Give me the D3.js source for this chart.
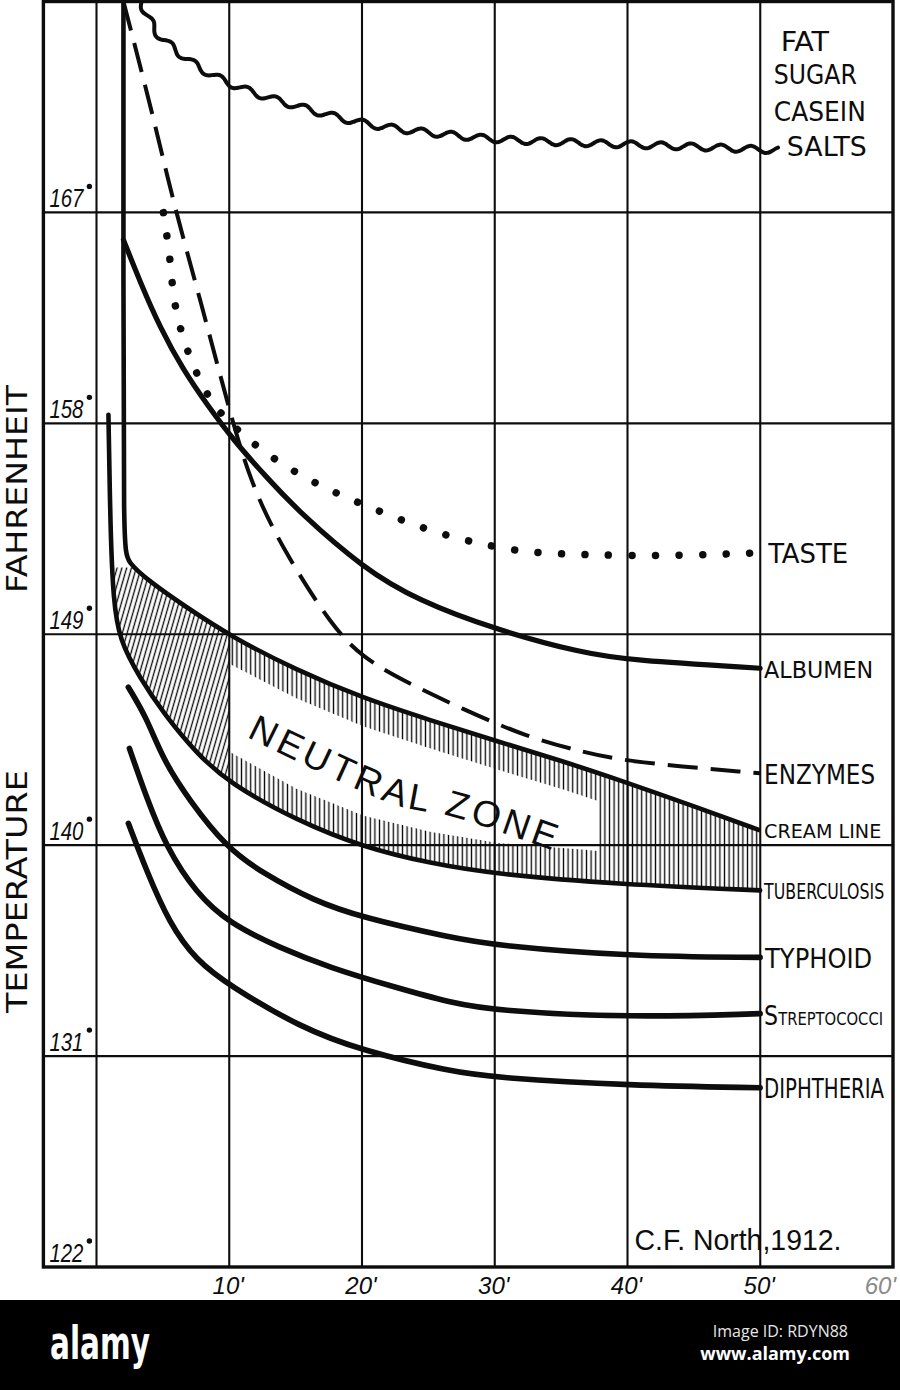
<!DOCTYPE html>
<html><head><meta charset="utf-8">
<script src="https://cdn.jsdelivr.net/npm/d3@7"></script>
<style>html,body{margin:0;padding:0;background:#fff;} svg{display:block;}</style>
</head><body>
<script>
// ---------------- DATA (time in minutes, temperature in °F) ----------------
const xGrid = [0, 10, 20, 30, 40, 50];
const xTicks = [10, 20, 30, 40, 50, 60];
const xTickLabels = ["10'", "20'", "30'", "40'", "50'", "60'"];
const yTicks = [122, 131, 140, 149, 158, 167];
const yTickLabels = ["122", "131", "140", "149", "158", "167"];
const yAxisWords = ["TEMPERATURE", "FAHRENHEIT"];

const fatSugarCaseinSalts = [[3.4,176],[4.3,174.7],[5.8,174.0],[7.8,173.1],[10,172.5],[12.3,172.0],[15.3,171.5],[20,170.75],[25,170.4],[30,170.1],[35,170.0],[40,169.9],[45.3,169.8],[51.4,169.65]];
const taste = [[5.04,166.99],[5.56,165.06],[5.79,163.14],[6.69,161.22],[8.35,159.08],[9.93,158.06],[12.34,156.86],[15.5,155.71],[18.67,154.86],[21.98,154.09],[25.37,153.36],[28.9,152.85],[32.45,152.47],[37.42,152.38],[43.06,152.34],[49.84,152.47]];
const albumen = [[2.03,165.83],[3.31,164.0],[4.81,162.06],[6.54,160.27],[8.35,158.78],[10.3,157.29],[12.87,155.66],[15.35,154.17],[20.1,151.82],[24.16,150.45],[30.19,149.17],[36.66,148.19],[40.2,147.89],[49.99,147.55]];
const enzymes = [[2.03,176],[4.28,171.09],[5.79,167.41],[7.82,163.27],[9.86,158.87],[11.59,155.45],[14.07,152.59],[17.84,149.25],[20.1,148.0],[22.9,147.07],[27.6,145.8],[32.4,144.62],[36.66,143.97],[40.2,143.54],[49.99,143.07]];
const creamLine = [[2.03,176],[2.03,164.12],[2.03,152.68],[2.33,152.08],[4.06,151.22],[6.54,150.24],[10.08,148.92],[15.05,147.47],[20.1,146.27],[25.14,145.33],[30.19,144.43],[34.93,143.62],[39.45,142.77],[45.47,141.57],[49.99,140.63]];
const tuberculosis = [[0.9,158.36],[1.05,153.32],[1.27,150.46],[1.72,148.75],[3.23,147.17],[5.04,145.63],[7.52,143.92],[10.01,142.64],[15.05,141.06],[20.1,139.91],[25.14,139.22],[30.19,138.75],[39.45,138.33],[49.99,138.07]];
const typhoid = [[2.4,146.74],[3.76,145.46],[5.04,143.62],[7.0,141.91],[9.78,139.9],[12.57,138.79],[16.33,137.64],[20.02,136.91],[26.65,136.06],[30.04,135.72],[40.2,135.25],[49.99,135.21]];
const streptococci = [[2.48,144.13],[3.76,142.04],[5.26,139.9],[7.52,137.94],[10.01,136.66],[13.77,135.63],[17.54,134.78],[22.58,133.92],[26.65,133.28],[30.04,132.94],[40.2,132.64],[49.99,132.81]];
const diphtheria = [[2.4,140.93],[3.76,138.92],[5.49,136.66],[7.52,135.08],[10.01,134.01],[15.35,132.22],[20.02,131.23],[26.65,130.34],[30.04,130.08],[40.2,129.74],[49.99,129.65]];

const topLabels = ["FAT", "SUGAR", "CASEIN", "SALTS"];
const zoneLabel = "NEUTRAL ZONE";
const zoneLabelPath = [[11.3,144.62],[22.45,141.74],[26.9,141.2],[34.6,139.72]];
const zoneWindow = [10.05, 37.8];   // minutes where the band centre is left open
const credit = "C.F. North,1912.";

// ---------------- SETUP ----------------
const W = 900, H = 1390;
const ink = "#0d0d0d";
const hand = "'DejaVu Sans Condensed','DejaVu Sans',sans-serif";
const x = d3.scaleLinear().domain([-4, 60]).range([43.4, 893]);
const y = d3.scaleLinear().domain([122, 176]).range([1267, 1.5]);
const line = d3.line().x(d => x(d[0])).y(d => y(d[1])).curve(d3.curveBasis);
const lineCR = d3.line().x(d => x(d[0])).y(d => y(d[1])).curve(d3.curveCatmullRom.alpha(0.5));

const svg = d3.select("body").append("svg").attr("width", W).attr("height", H);
svg.append("rect").attr("width", W).attr("height", H).attr("fill", "#fff");
const defs = svg.append("defs");

// place a text at (px,py) with rotation, horizontally scaled to a target width
function fitText(parent, px, py, targetW, rot) {
  const g = parent.append("g");
  const t = g.append("text").attr("x", 0).attr("y", 0);
  return {
    t, done() {
      const nat = t.node().getComputedTextLength() || targetW;
      g.attr("transform", `translate(${px},${py})${rot ? ` rotate(${rot})` : ""} scale(${targetW / nat},1)`);
    }
  };
}

function hatchPattern(id, angle) {
  const p = defs.append("pattern").attr("id", id).attr("patternUnits", "userSpaceOnUse")
    .attr("width", 4.6).attr("height", 20).attr("patternTransform", `rotate(${angle})`);
  p.append("line").attr("x1", 2.3).attr("x2", 2.3).attr("y1", -2).attr("y2", 22)
    .attr("stroke", ink).attr("stroke-width", 1.35);
}
hatchPattern("hatchV", 0);
hatchPattern("hatchS", 16);

defs.append("clipPath").attr("id", "plotClip").append("rect")
  .attr("x", x(-4)).attr("y", y(176)).attr("width", x(60) - x(-4)).attr("height", y(122) - y(176));

const bandD = line(creamLine) + "L" + line(tuberculosis.slice().reverse()).slice(1) + "Z";
defs.append("clipPath").attr("id", "bandClip").append("path").attr("d", bandD);
defs.append("clipPath").attr("id", "bandTop").append("rect")
  .attr("x", x(-4)).attr("y", y(151.85)).attr("width", x(60) - x(-4)).attr("height", y(122) - y(151.85));

// ---------------- NEUTRAL ZONE HATCH ----------------
const hatch = svg.append("g").attr("clip-path", "url(#bandTop)").append("g").attr("clip-path", "url(#bandClip)");
hatch.append("rect").attr("x", x(-1)).attr("y", y(160)).attr("width", x(zoneWindow[0]) - x(-1))
  .attr("height", y(136) - y(160)).attr("fill", "url(#hatchS)");
hatch.append("rect").attr("x", x(zoneWindow[0])).attr("y", y(160)).attr("width", x(50) - x(zoneWindow[0]))
  .attr("height", y(136) - y(160)).attr("fill", "url(#hatchV)");

const upAfter = creamLine.filter(d => d[0] > 2.2);
const loAfter = tuberculosis.filter(d => d[0] > 1.6);
const upI = d3.scaleLinear().domain(upAfter.map(d => d[0])).range(upAfter.map(d => d[1]));
const loI = d3.scaleLinear().domain(loAfter.map(d => d[0])).range(loAfter.map(d => d[1]));
const winT = d3.range(zoneWindow[0], zoneWindow[1], 0.25).concat([zoneWindow[1]]);
svg.append("path")
  .attr("d", d3.area().x(t => x(t)).y0(t => y(loI(t) + 1.35)).y1(t => y(upI(t) - 1.2))(winT))
  .attr("fill", "#fff");

// ---------------- GRID & FRAME ----------------
const grid = svg.append("g").attr("stroke", ink).attr("fill", "none");
grid.selectAll("line.v").data(xGrid).join("line").attr("class", "v")
  .attr("x1", d => x(d)).attr("x2", d => x(d)).attr("y1", y(176)).attr("y2", y(122)).attr("stroke-width", 2.1);
grid.selectAll("line.h").data(yTicks.filter(d => d > 122)).join("line").attr("class", "h")
  .attr("x1", x(-4)).attr("x2", x(60)).attr("y1", d => y(d)).attr("y2", d => y(d)).attr("stroke-width", 2.1);
grid.append("rect").attr("x", x(-4)).attr("y", y(176)).attr("width", x(60) - x(-4))
  .attr("height", y(122) - y(176)).attr("stroke-width", 3.4);

// ---------------- CURVES ----------------
const curves = svg.append("g").attr("clip-path", "url(#plotClip)").attr("fill", "none")
  .attr("stroke", ink).attr("stroke-linejoin", "round");

const base = curves.append("path").attr("d", line(fatSugarCaseinSalts)).attr("stroke", "none");
function wiggle(node, period, amp) {
  const L = node.getTotalLength(), pts = [];
  for (let s = 0; s <= L; s += 1.5) {
    const p = node.getPointAtLength(s);
    const a = node.getPointAtLength(Math.max(0, s - 1)), b = node.getPointAtLength(Math.min(L, s + 1));
    let tx = b.x - a.x, ty = b.y - a.y; const n = Math.hypot(tx, ty) || 1; tx /= n; ty /= n;
    const off = amp * Math.sin(2 * Math.PI * s / period);
    pts.push([p.x - ty * off, p.y + tx * off]);
  }
  return d3.line().curve(d3.curveBasis)(pts);
}
curves.append("path").attr("d", wiggle(base.node(), 30, 3.3)).attr("stroke-width", 4).attr("stroke-linecap", "round");

curves.append("path").attr("d", line(taste)).attr("stroke-width", 7.5)
  .attr("stroke-linecap", "round").attr("stroke-dasharray", "0.01,23.5");
curves.append("path").attr("d", line(enzymes)).attr("stroke-width", 4).attr("stroke-dasharray", "30,13");
curves.append("path").attr("d", line(albumen)).attr("stroke-width", 5.2).attr("stroke-linecap", "round");
curves.append("path").attr("d", line(creamLine)).attr("stroke-width", 4.6);
curves.append("path").attr("d", line(tuberculosis)).attr("stroke-width", 4.6).attr("stroke-linecap", "round");
[typhoid, streptococci, diphtheria].forEach(s =>
  curves.append("path").attr("d", line(s)).attr("stroke-width", 5.6).attr("stroke-linecap", "round"));

// ---------------- LABELS ----------------
const rightLabels = [
  { text: "TASTE", data: taste, dx: 10, w: 80, cap: 19 },
  { text: "ALBUMEN", data: albumen, dx: 4, w: 109, cap: 17 },
  { text: "ENZYMES", data: enzymes, dx: 4, w: 111, cap: 20 },
  { text: "CREAM LINE", data: creamLine, dx: 4, w: 117, cap: 14 },
  { text: "TUBERCULOSIS", data: tuberculosis, dx: 4, w: 120, cap: 15 },
  { text: "TYPHOID", data: typhoid, dx: 5, w: 107, cap: 20 },
  { text: "DIPHTHERIA", data: diphtheria, dx: 4, w: 120, cap: 19 }
];
const lab = svg.append("g").attr("fill", ink).attr("font-family", hand);
rightLabels.forEach(l => {
  const last = l.data[l.data.length - 1];
  const f = fitText(lab, x(last[0]) + l.dx, y(last[1]) + l.cap / 2 + 1, l.w);
  f.t.attr("font-size", l.cap / 0.73).text(l.text); f.done();
});
{
  const last = streptococci[streptococci.length - 1];
  const f = fitText(lab, x(last[0]) + 4, y(last[1]) + 11, 119);
  f.t.append("tspan").attr("font-size", 27).text("S");
  f.t.append("tspan").attr("font-size", 18).text("TREPTOCOCCI");
  f.done();
}
{
  const last = fatSugarCaseinSalts[fatSugarCaseinSalts.length - 1];
  const specs = [{ dx: 2, dy: -99, w: 48 }, { dx: -5, dy: -66, w: 83 }, { dx: -5, dy: -29, w: 92 }, { dx: 8, dy: 6, w: 80 }];
  topLabels.forEach((txt, i) => {
    const f = fitText(lab, x(last[0]) + specs[i].dx, y(last[1]) + specs[i].dy, specs[i].w);
    f.t.attr("font-size", 27).text(txt); f.done();
  });
}

// Y tick labels
const yl = svg.append("g").attr("fill", ink);
yTicks.forEach((v, i) => {
  const f = fitText(yl, x(-4) + 6, y(v) - 5, 34);
  f.t.attr("font-family", "'Liberation Sans',sans-serif").attr("font-style", "italic")
    .attr("font-size", 25).text(yTickLabels[i]);
  f.done();
  yl.append("circle").attr("cx", x(-4) + 46).attr("cy", y(v) - 26).attr("r", 2.7);
});

// X tick labels
xTicks.forEach((v, i) => {
  const lastOne = i === xTicks.length - 1;
  svg.append("text").attr("x", lastOne ? x(v) + 3 : x(v) - 1).attr("y", 1294)
    .attr("text-anchor", lastOne ? "end" : "middle")
    .attr("font-family", "'Liberation Sans',sans-serif").attr("font-style", "italic")
    .attr("font-size", 24).attr("fill", lastOne ? "#8a8a8a" : ink).text(xTickLabels[i]);
});

// Axis title (vertical)
const titleSpecs = [{ yStart: 1013, len: 243 }, { yStart: 593, len: 208 }];
yAxisWords.forEach((w, i) => {
  const f = fitText(svg, 27, titleSpecs[i].yStart, titleSpecs[i].len, -90);
  f.t.attr("font-family", hand).attr("font-size", 29).attr("fill", ink).text(w);
  f.done();
});

// NEUTRAL ZONE label along the band
const zp = defs.append("path").attr("id", "zonePath").attr("d", lineCR(zoneLabelPath));
const zl = zp.node().getTotalLength();
svg.append("text").attr("font-family", "'Liberation Sans',sans-serif").attr("font-size", 37).attr("fill", ink)
  .append("textPath").attr("href", "#zonePath").attr("textLength", zl - 4).attr("lengthAdjust", "spacing")
  .text(zoneLabel);

// credit
{
  const f = fitText(svg, x(40) + 7, 1250, 207);
  f.t.attr("font-family", "'Liberation Sans',sans-serif").attr("font-size", 30).attr("fill", ink).text(credit);
  f.done();
}

// ---------------- STOCK BANNER ----------------
svg.append("rect").attr("x", 0).attr("y", 1300).attr("width", W).attr("height", 90).attr("fill", "#000");
{
  const f = fitText(svg, 50, 1359, 100);
  f.t.attr("font-family", "'Liberation Sans Narrow','DejaVu Sans Condensed',sans-serif")
    .attr("font-weight", "bold").attr("font-size", 46).attr("fill", "#fff").text("alamy");
  f.done();
}
svg.append("text").attr("x", 848).attr("y", 1337).attr("text-anchor", "end").attr("font-family", "'Open Sans',sans-serif")
  .attr("font-size", 16).attr("fill", "#e6e6e6").text("Image ID: RDYN88");
svg.append("text").attr("x", 850).attr("y", 1360).attr("text-anchor", "end").attr("font-family", "'Open Sans',sans-serif")
  .attr("font-weight", "bold").attr("font-size", 18).attr("fill", "#fff").text("www.alamy.com");
</script>
</body></html>
